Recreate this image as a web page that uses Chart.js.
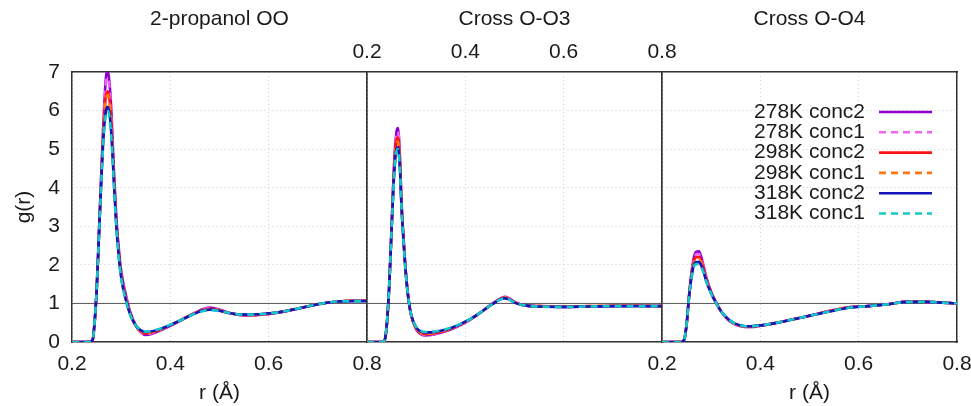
<!DOCTYPE html>
<html>
<head>
<meta charset="utf-8">
<script src="https://cdn.jsdelivr.net/npm/chart.js@4"></script>
<style>
  html, body { margin: 0; padding: 0; background: #fff; }
  #wrap { position: relative; width: 971px; height: 406px; }
  #wrap canvas { position: absolute; left: 0; top: 0; }
</style>
</head>
<body>
<div id="wrap">
  <canvas id="panelOO" width="971" height="406"></canvas>
  <canvas id="panelO3" width="971" height="406"></canvas>
  <canvas id="panelO4" width="971" height="406"></canvas>
</div>
<script>
// Series names (same for every panel)
const seriesLabels = ['278K conc2', '278K conc1', '298K conc2', '298K conc1', '318K conc2', '318K conc1'];

// x ticks / y ticks
const rTicks = [0.2, 0.4, 0.6, 0.8];
const gTicks = [0, 1, 2, 3, 4, 5, 6, 7];

// --- 2-propanol OO ---
const rOO = [0.20, 0.235, 0.242, 0.246, 0.25, 0.255, 0.26, 0.265, 0.27, 0.273, 0.277, 0.28, 0.285, 0.29, 0.295, 0.30, 0.31, 0.32, 0.33, 0.34, 0.35, 0.36, 0.38, 0.40, 0.42, 0.44, 0.46, 0.48, 0.50, 0.52, 0.55, 0.58, 0.62, 0.66, 0.70, 0.74, 0.77, 0.80];
const oo278c2 = [0, 0, 0.05, 0.5, 1.3, 2.9, 4.5, 6.0, 6.95, 7.0, 6.6, 6.0, 4.5, 3.25, 2.45, 1.85, 1.2, 0.72, 0.42, 0.25, 0.18, 0.2, 0.3, 0.42, 0.55, 0.69, 0.82, 0.89, 0.84, 0.75, 0.69, 0.70, 0.76, 0.86, 0.98, 1.05, 1.07, 1.07];
const oo278c1 = [0, 0, 0.05, 0.5, 1.3, 2.9, 4.5, 5.95, 6.8, 6.85, 6.5, 5.9, 4.45, 3.2, 2.4, 1.8, 1.17, 0.7, 0.42, 0.26, 0.2, 0.22, 0.31, 0.43, 0.56, 0.7, 0.82, 0.88, 0.83, 0.75, 0.7, 0.71, 0.77, 0.87, 0.98, 1.05, 1.07, 1.07];
const oo298c2 = [0, 0, 0.05, 0.5, 1.3, 2.85, 4.4, 5.75, 6.45, 6.5, 6.2, 5.7, 4.35, 3.15, 2.35, 1.75, 1.12, 0.68, 0.42, 0.27, 0.22, 0.24, 0.32, 0.43, 0.56, 0.69, 0.8, 0.86, 0.82, 0.75, 0.7, 0.71, 0.77, 0.87, 0.98, 1.05, 1.07, 1.07];
const oo298c1 = [0, 0, 0.05, 0.5, 1.3, 2.85, 4.4, 5.7, 6.35, 6.4, 6.1, 5.6, 4.3, 3.1, 2.3, 1.72, 1.1, 0.67, 0.42, 0.28, 0.23, 0.25, 0.33, 0.44, 0.56, 0.69, 0.8, 0.85, 0.81, 0.75, 0.7, 0.71, 0.77, 0.87, 0.98, 1.05, 1.07, 1.07];
const oo318c2 = [0, 0, 0.06, 0.52, 1.3, 2.8, 4.3, 5.5, 6.05, 6.1, 5.85, 5.4, 4.2, 3.05, 2.25, 1.68, 1.07, 0.66, 0.43, 0.3, 0.26, 0.27, 0.34, 0.44, 0.56, 0.68, 0.79, 0.84, 0.81, 0.75, 0.71, 0.72, 0.77, 0.87, 0.98, 1.05, 1.06, 1.06];
const oo318c1 = [0, 0, 0.06, 0.52, 1.3, 2.8, 4.25, 5.45, 5.95, 6.0, 5.75, 5.3, 4.15, 3.0, 2.2, 1.65, 1.05, 0.65, 0.43, 0.31, 0.27, 0.28, 0.35, 0.45, 0.56, 0.68, 0.78, 0.83, 0.8, 0.75, 0.71, 0.72, 0.77, 0.87, 0.98, 1.05, 1.06, 1.06];

// --- Cross O-O3 ---
const rO3 = [0.20, 0.23, 0.236, 0.24, 0.245, 0.25, 0.255, 0.26, 0.263, 0.267, 0.27, 0.275, 0.28, 0.285, 0.29, 0.30, 0.31, 0.32, 0.33, 0.35, 0.37, 0.40, 0.42, 0.44, 0.46, 0.47, 0.48, 0.49, 0.50, 0.52, 0.55, 0.60, 0.65, 0.70, 0.75, 0.80];
const o3278c2 = [0, 0, 0.05, 0.4, 1.4, 3.0, 4.6, 5.45, 5.55, 4.8, 3.7, 2.55, 1.65, 1.05, 0.68, 0.33, 0.2, 0.17, 0.18, 0.24, 0.32, 0.5, 0.66, 0.85, 1.04, 1.12, 1.17, 1.13, 1.04, 0.95, 0.93, 0.91, 0.92, 0.93, 0.94, 0.93];
const o3278c1 = [0, 0, 0.05, 0.4, 1.4, 3.0, 4.55, 5.38, 5.45, 4.75, 3.68, 2.55, 1.65, 1.05, 0.68, 0.34, 0.21, 0.18, 0.19, 0.25, 0.33, 0.51, 0.67, 0.86, 1.04, 1.12, 1.17, 1.13, 1.04, 0.95, 0.93, 0.91, 0.92, 0.93, 0.94, 0.93];
const o3298c2 = [0, 0, 0.05, 0.4, 1.4, 2.95, 4.45, 5.25, 5.3, 4.65, 3.62, 2.52, 1.64, 1.05, 0.69, 0.35, 0.23, 0.2, 0.21, 0.26, 0.34, 0.52, 0.67, 0.85, 1.03, 1.11, 1.15, 1.11, 1.03, 0.95, 0.93, 0.92, 0.93, 0.94, 0.94, 0.93];
const o3298c1 = [0, 0, 0.05, 0.4, 1.4, 2.95, 4.4, 5.15, 5.2, 4.6, 3.6, 2.5, 1.63, 1.05, 0.69, 0.36, 0.24, 0.21, 0.22, 0.27, 0.35, 0.52, 0.67, 0.85, 1.03, 1.11, 1.15, 1.11, 1.03, 0.95, 0.93, 0.92, 0.93, 0.94, 0.94, 0.93];
const o3318c2 = [0, 0, 0.06, 0.42, 1.4, 2.9, 4.3, 5.0, 5.05, 4.5, 3.55, 2.48, 1.62, 1.05, 0.7, 0.38, 0.27, 0.25, 0.25, 0.29, 0.36, 0.53, 0.67, 0.85, 1.02, 1.1, 1.13, 1.1, 1.02, 0.95, 0.92, 0.91, 0.92, 0.93, 0.93, 0.93];
const o3318c1 = [0, 0, 0.06, 0.42, 1.4, 2.9, 4.25, 4.95, 5.0, 4.45, 3.52, 2.47, 1.62, 1.05, 0.7, 0.39, 0.28, 0.26, 0.26, 0.3, 0.37, 0.53, 0.67, 0.85, 1.02, 1.1, 1.13, 1.1, 1.02, 0.95, 0.92, 0.91, 0.92, 0.93, 0.93, 0.93];

// --- Cross O-O4 ---
const rO4 = [0.20, 0.24, 0.245, 0.25, 0.255, 0.26, 0.265, 0.27, 0.275, 0.28, 0.285, 0.29, 0.30, 0.31, 0.32, 0.33, 0.34, 0.35, 0.36, 0.37, 0.38, 0.40, 0.43, 0.46, 0.50, 0.54, 0.58, 0.62, 0.66, 0.70, 0.74, 0.77, 0.80];
const o4278c2 = [0, 0, 0.05, 0.45, 1.2, 1.8, 2.2, 2.34, 2.35, 2.2, 1.95, 1.68, 1.3, 1.03, 0.8, 0.63, 0.52, 0.45, 0.41, 0.39, 0.39, 0.42, 0.49, 0.57, 0.68, 0.8, 0.9, 0.93, 0.98, 1.05, 1.04, 1.02, 1.0];
const o4278c1 = [0, 0, 0.05, 0.45, 1.2, 1.78, 2.15, 2.28, 2.28, 2.15, 1.92, 1.66, 1.29, 1.02, 0.8, 0.63, 0.52, 0.45, 0.41, 0.39, 0.39, 0.42, 0.49, 0.57, 0.68, 0.8, 0.9, 0.93, 0.98, 1.05, 1.04, 1.02, 1.0];
const o4298c2 = [0, 0, 0.05, 0.45, 1.18, 1.74, 2.1, 2.2, 2.2, 2.08, 1.88, 1.63, 1.28, 1.02, 0.8, 0.64, 0.53, 0.46, 0.42, 0.4, 0.4, 0.43, 0.49, 0.57, 0.68, 0.8, 0.9, 0.93, 0.98, 1.05, 1.04, 1.02, 1.0];
const o4298c1 = [0, 0, 0.05, 0.45, 1.17, 1.72, 2.06, 2.15, 2.15, 2.04, 1.85, 1.61, 1.27, 1.02, 0.8, 0.64, 0.53, 0.46, 0.42, 0.4, 0.4, 0.43, 0.49, 0.57, 0.68, 0.8, 0.9, 0.93, 0.98, 1.05, 1.04, 1.02, 1.0];
const o4318c2 = [0, 0, 0.06, 0.46, 1.16, 1.68, 2.0, 2.07, 2.07, 1.98, 1.8, 1.58, 1.26, 1.01, 0.8, 0.65, 0.54, 0.47, 0.43, 0.41, 0.41, 0.43, 0.49, 0.57, 0.68, 0.79, 0.89, 0.93, 0.98, 1.04, 1.04, 1.02, 1.0];
const o4318c1 = [0, 0, 0.06, 0.46, 1.15, 1.66, 1.96, 2.02, 2.02, 1.94, 1.78, 1.57, 1.25, 1.01, 0.8, 0.65, 0.54, 0.47, 0.43, 0.41, 0.41, 0.43, 0.49, 0.57, 0.68, 0.79, 0.89, 0.93, 0.98, 1.04, 1.04, 1.02, 1.0];

// reference line g(r) = 1
const unityR = [0.2, 0.8];
const unityG = [1, 1];

// line styles, one per series
const seriesColors = ['#9000d0', '#ee66ee', '#ff1414', '#ff7414', '#1414b8', '#14c8c8'];
const seriesDash = [[], [7, 5], [], [7, 5], [], [7, 5]];

Chart.defaults.font.family = '"Liberation Sans", Arial, sans-serif';
Chart.defaults.font.size = 21;
Chart.defaults.color = '#1a1a1a';

const toPoints = (xs, ys) => xs.map((x, i) => ({ x: x, y: ys[i] }));

// gnuplot style key: text right aligned, sample line on the right
const keyPlugin = {
  id: 'gnuplotKey',
  afterDatasetsDraw(chart, args, opts) {
    if (!opts.show) return;
    const ctx = chart.ctx;
    const area = chart.chartArea;
    const textRight = area.right - 92;
    const lineX1 = area.right - 78;
    const lineX2 = area.right - 25;
    let y = area.top + 40;
    ctx.save();
    ctx.font = '21px "Liberation Sans", Arial, sans-serif';
    ctx.textAlign = 'right';
    ctx.textBaseline = 'middle';
    chart.data.datasets.forEach(ds => {
      if (!ds.inKey) return;
      ctx.fillStyle = '#1a1a1a';
      ctx.fillText(ds.label, textRight, y);
      ctx.strokeStyle = ds.borderColor;
      ctx.lineWidth = ds.borderWidth;
      ctx.setLineDash(ds.borderDash);
      ctx.beginPath();
      ctx.moveTo(lineX1, y);
      ctx.lineTo(lineX2, y);
      ctx.stroke();
      y += 20.3;
    });
    ctx.restore();
  }
};

// fixed box sizes so the three panels line up exactly
const fixHeight = h => s => { s.height = h; s.paddingLeft = 0; s.paddingRight = 0; };

function makePanel(id, cfg) {
  const datasets = [{
    label: '',
    data: toPoints(unityR, unityG),
    borderColor: '#555',
    borderWidth: 1,
    pointRadius: 0,
    order: 20,
    inKey: false
  }];
  cfg.series.forEach((vals, i) => {
    datasets.push({
      label: seriesLabels[i],
      data: toPoints(cfg.r, vals),
      borderColor: seriesColors[i],
      borderWidth: 2.6,
      borderDash: seriesDash[i],
      pointRadius: 0,
      cubicInterpolationMode: 'monotone',
      order: 10 - i,
      inKey: true
    });
  });

  const grid = { color: '#cfcfcf', drawTicks: false, lineWidth: 1 };
  const border = { color: '#333', width: 1.5, dash: [1, 3] };
  // the y axis box takes the left margin on the first panel, padding does it on the others
  const padLeft = cfg.leftLabels ? 0 : cfg.left;

  return new Chart(document.getElementById(id), {
    type: 'line',
    data: { datasets: datasets },
    plugins: [keyPlugin],
    options: {
      responsive: false,
      animation: false,
      layout: { padding: { left: padLeft, right: 971 - cfg.right, top: 0, bottom: 0 } },
      plugins: {
        legend: { display: false },
        tooltip: { enabled: false },
        gnuplotKey: { show: !!cfg.showKey }
      },
      scales: {
        x: {
          type: 'linear', position: 'bottom',
          min: rTicks[0], max: rTicks[rTicks.length - 1],
          afterBuildTicks: s => { s.ticks = rTicks.map(v => ({ value: v })); },
          ticks: { display: cfg.bottomLabels, padding: 10, maxRotation: 0, callback: v => v.toFixed(1) },
          grid: grid, border: border,
          title: { display: cfg.bottomLabels, text: 'r (Å)', padding: { top: 0, bottom: 0 } },
          afterFit: fixHeight(64)
        },
        xTop: {
          type: 'linear', position: 'top',
          min: rTicks[0], max: rTicks[rTicks.length - 1],
          afterBuildTicks: s => { s.ticks = rTicks.map(v => ({ value: v })); },
          ticks: { display: cfg.topLabels, padding: 7.5, maxRotation: 0, callback: v => v.toFixed(1) },
          grid: { display: false, drawTicks: false },
          border: { color: '#333', width: 1.5 },
          title: { display: true, text: cfg.title, padding: { top: 7, bottom: 0 } },
          afterFit: fixHeight(72)
        },
        y: {
          type: 'linear', position: 'left',
          min: gTicks[0], max: gTicks[gTicks.length - 1],
          afterBuildTicks: s => { s.ticks = gTicks.map(v => ({ value: v })); },
          ticks: { display: cfg.leftLabels, padding: 12 },
          grid: grid, border: border,
          title: { display: cfg.leftLabels, text: 'g(r)', padding: { top: 12, bottom: 0 } },
          afterFit: s => { s.width = cfg.leftLabels ? cfg.left : 0; }
        },
        yRight: {
          type: 'linear', position: 'right',
          min: gTicks[0], max: gTicks[gTicks.length - 1],
          ticks: { display: false },
          grid: { display: false, drawTicks: false },
          border: { color: '#333', width: 1.5 },
          afterFit: s => { s.width = 0; }
        }
      }
    }
  });
}

makePanel('panelOO', {
  r: rOO, series: [oo278c2, oo278c1, oo298c2, oo298c1, oo318c2, oo318c1],
  title: '2-propanol OO', left: 72, right: 367,
  bottomLabels: true, topLabels: false, leftLabels: true
});
makePanel('panelO3', {
  r: rO3, series: [o3278c2, o3278c1, o3298c2, o3298c1, o3318c2, o3318c1],
  title: 'Cross O-O3', left: 367, right: 662,
  bottomLabels: false, topLabels: true, leftLabels: false
});
makePanel('panelO4', {
  r: rO4, series: [o4278c2, o4278c1, o4298c2, o4298c1, o4318c2, o4318c1],
  title: 'Cross O-O4', left: 662, right: 957,
  bottomLabels: true, topLabels: false, leftLabels: false, showKey: true
});
</script>
</body>
</html>
